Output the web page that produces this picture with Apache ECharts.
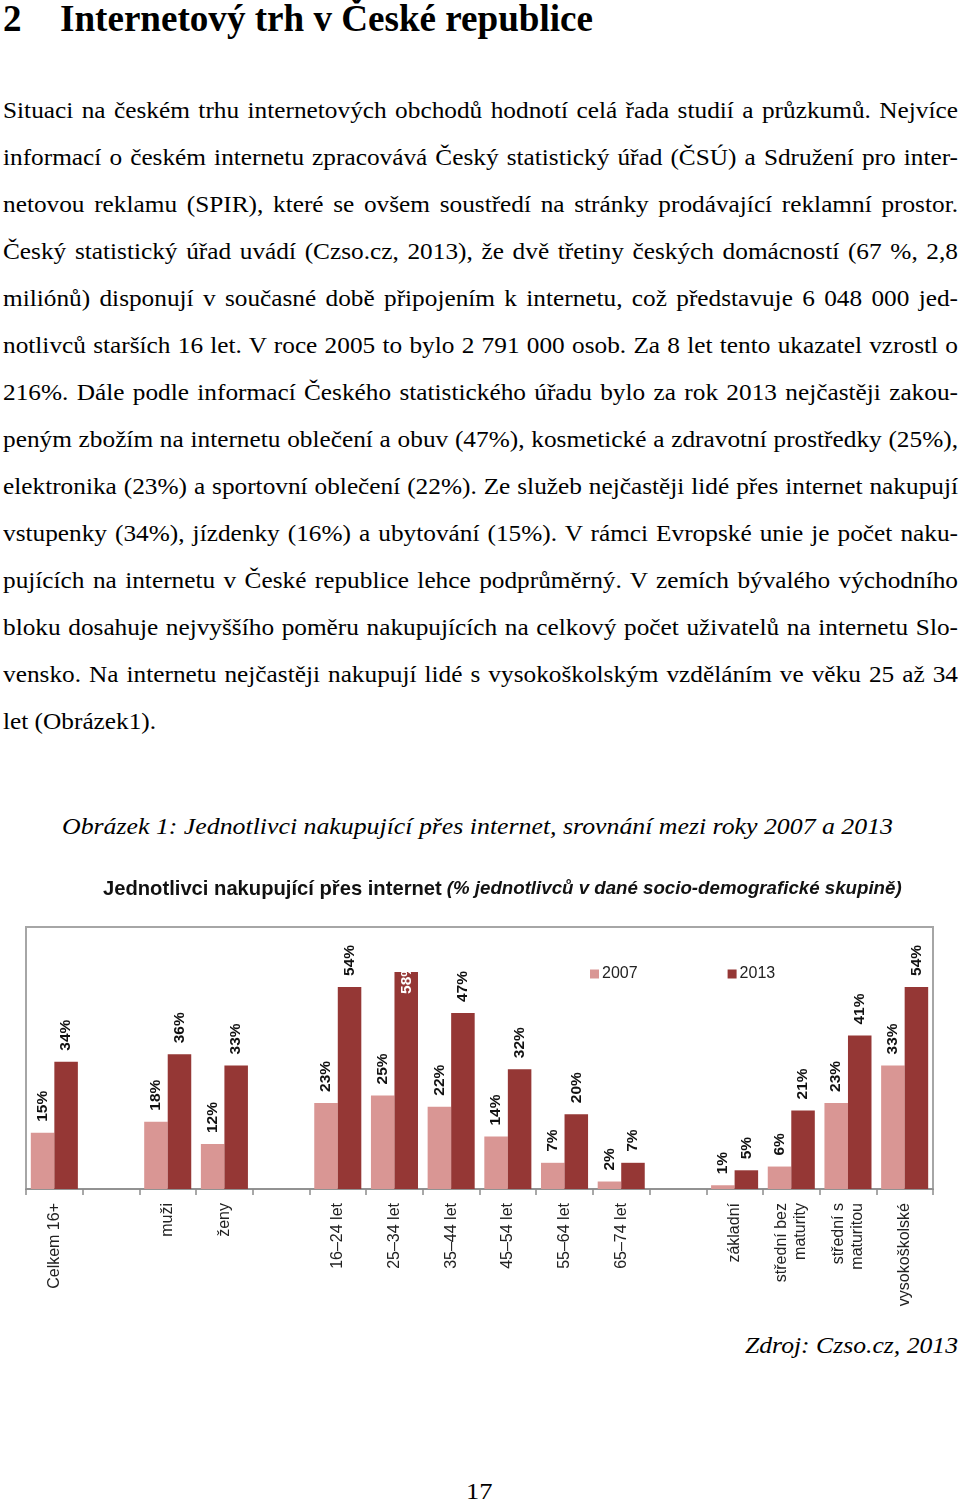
<!DOCTYPE html>
<html lang="cs">
<head>
<meta charset="utf-8">
<title>Internetový trh v České republice</title>
<script src="https://cdn.jsdelivr.net/npm/echarts@6/dist/echarts.min.js"></script>
<style>
  html, body { margin: 0; padding: 0; background: #fff; }
  #page { position: relative; width: 960px; height: 1504px; overflow: hidden; background: #fff; }
  .t { position: absolute; white-space: pre; color: #000; font-family: "Liberation Serif", "Times New Roman", serif; transform-origin: 0 0; z-index: 2; }
  #chart { position: absolute; left: 0; top: 860px; width: 960px; height: 460px; z-index: 1; }
</style>
</head>
<body>
<div id="page"><div id="chart"></div></div>
<script>
// ---------- data ----------
const categories = ['Celkem 16+', '', 'muži', 'ženy', ' ', '16–24 let', '25–34 let', '35–44 let', '45–54 let', '55–64 let', '65–74 let', '  ', 'základní', 'střední bez\nmaturity', 'střední s\nmaturitou', 'vysokoškolské'];
const values2007 = [15, null, 18, 12, null, 23, 25, 22, 14, 7, 2, null, 1, 6, 23, 33];
const values2013 = [34, null, 36, 33, null, 54, 58, 47, 32, 20, 7, null, 5, 21, 41, 54];
const seriesNames = ['2007', '2013'];
const chartTitleBold = 'Jednotlivci nakupující přes internet';
const chartTitleItalic = '(% jednotlivců v dané socio-demografické skupině)';
const clippedLabelIndex = 6; // the 58% label sits inside the bar in the original

const headingNumber = '2';
const headingText = 'Internetový trh v České republice';
const bodyLines = [
  'Situaci na českém trhu internetových obchodů hodnotí celá řada studií a průzkumů. Nejvíce',
  'informací o českém internetu zpracovává Český statistický úřad (ČSÚ) a Sdružení pro inter-',
  'netovou reklamu (SPIR), které se ovšem soustředí na stránky prodávající reklamní prostor.',
  'Český statistický úřad uvádí (Czso.cz, 2013), že dvě třetiny českých domácností (67 %, 2,8',
  'miliónů) disponují v současné době připojením k internetu, což představuje 6 048 000 jed-',
  'notlivců starších 16 let. V roce 2005 to bylo 2 791 000 osob. Za 8 let tento ukazatel vzrostl o',
  '216%. Dále podle informací Českého statistického úřadu bylo za rok 2013 nejčastěji zakou-',
  'peným zbožím na internetu oblečení a obuv (47%), kosmetické a zdravotní prostředky (25%),',
  'elektronika (23%) a sportovní oblečení (22%). Ze služeb nejčastěji lidé přes internet nakupují',
  'vstupenky (34%), jízdenky (16%) a ubytování (15%). V rámci Evropské unie je počet naku-',
  'pujících na internetu v České republice lehce podprůměrný. V zemích bývalého východního',
  'bloku dosahuje nejvyššího poměru nakupujících na celkový počet uživatelů na internetu Slo-',
  'vensko. Na internetu nejčastěji nakupují lidé s vysokoškolským vzděláním ve věku 25 až 34',
  'let (Obrázek1).'
];
const captionText = 'Obrázek 1: Jednotlivci nakupující přes internet, srovnání mezi roky 2007 a 2013';
const sourceText = 'Zdroj: Czso.cz, 2013';
const pageNumber = '17';

// ---------- page text ----------
const page = document.getElementById('page');
function place(text, o) {
  const F = o.size;
  const d = document.createElement('div');
  d.className = 't';
  d.textContent = text;
  d.style.fontSize = F + 'px';
  d.style.lineHeight = F + 'px';
  d.style.top = (o.baseline - 0.8375 * F) + 'px';
  d.style.left = o.x + 'px';
  if (o.bold) d.style.fontWeight = 'bold';
  if (o.italic) d.style.fontStyle = 'italic';
  page.appendChild(d);
  const natural = d.getBoundingClientRect().width;
  let sx = o.scale || 1;
  if (o.justify) {
    const spaces = (text.match(/ /g) || []).length;
    if (spaces > 0) d.style.wordSpacing = ((o.width / sx - natural) / spaces) + 'px';
  } else if (o.fit) {
    sx = o.width / natural;
  }
  if (o.center) d.style.left = (o.center - natural * sx / 2) + 'px';
  d.style.transform = 'scaleX(' + sx + ')';
  return d;
}

place(headingNumber, { x: 3, baseline: 31, size: 37, bold: true });
place(headingText, { x: 60, baseline: 31, size: 37, bold: true, fit: true, width: 533 });

bodyLines.forEach((line, i) => {
  const last = i === bodyLines.length - 1;
  place(line, { x: 3, baseline: 118.5 + 46.95 * i, size: 23, scale: 1.1, justify: !last, width: 955 });
});

place(captionText, { x: 62, baseline: 834, size: 23, italic: true, fit: true, width: 831 });
place(sourceText, { x: 745, baseline: 1353, size: 23, italic: true, fit: true, width: 213 });
place(pageNumber, { x: 466, baseline: 1499, size: 23, scale: 1.15, center: 479 });

// ---------- chart ----------
const FONT = '"Liberation Sans", Arial, sans-serif';
const chart = echarts.init(document.getElementById('chart'), null, { renderer: 'canvas' });

const labelBase = {
  show: true,
  position: 'top',
  rotate: 90,
  align: 'left',
  verticalAlign: 'middle',
  distance: 11,
  fontFamily: FONT,
  fontSize: 15.5,
  fontWeight: 'bold',
  color: '#111',
  formatter: p => p.value + '%'
};

const data2013 = values2013.map((v, i) =>
  i === clippedLabelIndex ? { value: v, label: { color: '#fff', distance: -22 } } : v
);

chart.setOption({
  animation: false,
  backgroundColor: 'transparent',
  textStyle: { fontFamily: FONT },
  title: {
    text: '{b|' + chartTitleBold + '} {i|' + chartTitleItalic + '}',
    left: 98,
    top: 14,
    textStyle: {
      rich: {
        b: { fontFamily: FONT, fontSize: 20.2, fontWeight: 'bold', color: '#111' },
        i: { fontFamily: FONT, fontSize: 18.7, fontStyle: 'italic', color: '#111' }
      }
    }
  },
  legend: {
    data: seriesNames,
    left: 585,
    top: 101,
    icon: 'rect',
    itemWidth: 9,
    itemHeight: 9,
    itemGap: 90,
    textStyle: { fontFamily: FONT, fontSize: 16, color: '#222', padding: [0, 0, 0, -2] }
  },
  grid: {
    show: true,
    left: 26,
    right: 27,
    top: 67,
    bottom: 131,
    borderColor: '#a6a6a6',
    borderWidth: 2,
    backgroundColor: 'transparent',
    containLabel: false
  },
  xAxis: {
    type: 'category',
    data: categories,
    boundaryGap: true,
    axisLine: { lineStyle: { color: '#8c8c8c', width: 1.5 } },
    axisTick: { show: true, interval: 0, length: 6, lineStyle: { color: '#8c8c8c', width: 1.5 } },
    axisLabel: {
      interval: 0,
      rotate: 90,
      margin: 14,
      fontFamily: FONT,
      fontSize: 16,
      lineHeight: 19,
      color: '#222'
    }
  },
  yAxis: {
    type: 'value',
    min: 0,
    max: 70,
    show: false,
    splitLine: { show: false }
  },
  series: [
    {
      name: seriesNames[0],
      type: 'bar',
      data: values2007,
      barGap: '0%',
      barCategoryGap: '17%',
      itemStyle: { color: '#d99694' },
      label: labelBase
    },
    {
      name: seriesNames[1],
      type: 'bar',
      data: data2013,
      barGap: '0%',
      barCategoryGap: '17%',
      itemStyle: { color: '#953735' },
      label: labelBase
    }
  ]
});
</script>
</body>
</html>
